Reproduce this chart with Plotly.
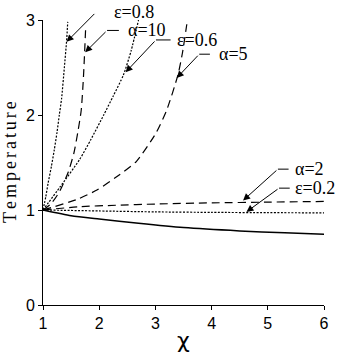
import plotly.graph_objects as go

# temperature vs chi
x_base = [1, 1.5, 2, 2.7, 3.5, 4.5, 5.3, 6]
t_base = [1, 0.94, 0.905, 0.86, 0.815, 0.78, 0.76, 0.745]

x_eps02 = [1, 2, 3, 4, 5, 6]
t_eps02 = [1, 0.99, 0.98, 0.975, 0.972, 0.97]

x_eps06 = [1, 1.3, 1.65, 1.85, 2.08, 2.25, 2.43, 2.57, 2.7]
t_eps06 = [1, 1.24, 1.53, 1.74, 2.0, 2.2, 2.42, 2.68, 3.0]

x_eps08 = [1, 1.05, 1.09, 1.15, 1.2, 1.25, 1.29, 1.33, 1.38, 1.42, 1.44]
t_eps08 = [1, 1.14, 1.28, 1.46, 1.63, 1.82, 2.0, 2.17, 2.5, 2.78, 2.98]

x_alf2 = [1, 1.65, 2.3, 3, 4, 5, 6]
t_alf2 = [1, 1.035, 1.05, 1.063, 1.075, 1.083, 1.09]

x_alf5 = [1, 1.6, 1.96, 2.31, 2.66, 3.01, 3.2, 3.4, 3.48, 3.57]
t_alf5 = [1, 1.11, 1.21, 1.35, 1.51, 1.81, 2.05, 2.42, 2.65, 3.0]

x_alf10 = [1, 1.15, 1.3, 1.45, 1.55, 1.62, 1.68, 1.72, 1.76]
t_alf10 = [1, 1.07, 1.2, 1.4, 1.6, 1.82, 2.05, 2.4, 2.93]

x_ticks = [1, 2, 3, 4, 5, 6]
y_ticks = [0, 1, 2, 3]

labels = ["ε=0.8", "α=10", "ε=0.6", "α=5", "α=2", "ε=0.2"]

# where the label text starts and where its leader goes (data coords)
lab_x = [2.22, 2.47, 3.34, 4.09, 5.44, 5.44]
lab_y = [3.08, 2.89, 2.79, 2.64, 1.43, 1.23]
bend_x0 = [2.17, 2.35, 3.27, 3.97, 5.37, 5.39]
bend_x1 = [1.94, 2.14, 3.01, 3.78, 5.18, 5.20]
tip_x = [1.42, 1.75, 2.47, 3.38, 4.56, 4.62]
tip_y = [2.77, 2.66, 2.45, 2.39, 1.10, 0.98]

DASH = "8px,5px"
DOT = "2px,1.5px"
SERIF = "Liberation Serif, Times New Roman, DejaVu Serif, serif"

fig = go.Figure()

def add_curve(x, y, dash, width=1.2):
    fig.add_trace(go.Scatter(x=x, y=y, mode="lines",
                             line=dict(color="black", width=width, dash=dash,
                                       shape="spline", smoothing=0.6),
                             showlegend=False, hoverinfo="skip",
                             cliponaxis=False))

add_curve(x_base, t_base, "solid", 1.5)
add_curve(x_eps02, t_eps02, DOT)
add_curve(x_eps06, t_eps06, DOT)
add_curve(x_eps08, t_eps08, DOT)
add_curve(x_alf2, t_alf2, DASH)
add_curve(x_alf5, t_alf5, DASH)
add_curve(x_alf10, t_alf10, DASH)

for i in range(len(labels)):
    # paper coords so labels above the top of the axis still show
    fig.add_annotation(x=(lab_x[i] - 1) / 5, y=lab_y[i] / 3,
                       xref="paper", yref="paper",
                       text=labels[i], showarrow=False,
                       xanchor="left", yanchor="middle",
                       font=dict(family=SERIF, size=18, color="black"))
    fig.add_shape(type="line", xref="x", yref="y",
                  x0=bend_x0[i], x1=bend_x1[i], y0=lab_y[i], y1=lab_y[i],
                  line=dict(color="black", width=1))
    fig.add_annotation(x=tip_x[i], y=tip_y[i], xref="x", yref="y",
                       ax=bend_x1[i], ay=lab_y[i], axref="x", ayref="y",
                       text="", showarrow=True, arrowhead=2, arrowsize=1.4,
                       arrowwidth=1, arrowcolor="black", standoff=0)

# axis titles as annotations for precise placement
fig.add_annotation(x=0.5, y=-0.123, xref="paper", yref="paper",
                   text="χ", showarrow=False, xanchor="center", yanchor="middle",
                   font=dict(family="DejaVu Sans", size=22, color="black"))
fig.add_annotation(x=-0.119, y=0.5, xref="paper", yref="paper",
                   text="\u2006".join("Temperature"),
                   textangle=-90, showarrow=False,
                   xanchor="center", yanchor="middle",
                   font=dict(family=SERIF, size=18, color="black"))

axis_style = dict(showline=True, linecolor="black", linewidth=1,
                  ticks="outside", ticklen=4, tickcolor="black",
                  showgrid=False, zeroline=False,
                  tickfont=dict(family="Liberation Sans", size=16, color="black"))

fig.update_xaxes(range=[1, 6], tickvals=x_ticks, **axis_style)
fig.update_yaxes(range=[0, 3], tickvals=y_ticks, **axis_style)

fig.update_layout(width=341, height=353,
                  margin=dict(l=43, r=12, t=20, b=48),
                  paper_bgcolor="white", plot_bgcolor="white")

fig.write_html("out.html", config={"displayModeBar": False},
               post_script="document.body.style.margin='0';")
